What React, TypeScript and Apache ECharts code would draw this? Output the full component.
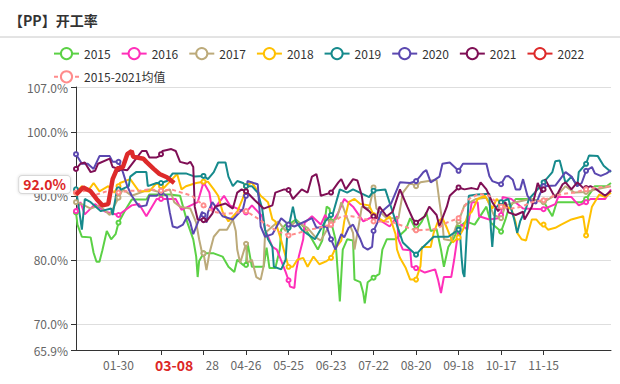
import React, { useEffect, useRef } from "react";
import * as echarts from "echarts";

const MONTH_LENGTHS = [31, 29, 31, 30, 31, 30, 31, 31, 30, 31, 30, 31];
const days: string[] = [];
MONTH_LENGTHS.forEach((len, m) => {
  for (let d = 1; d <= len; d++) {
    days.push(String(m + 1).padStart(2, "0") + "-" + String(d).padStart(2, "0"));
  }
});

const TITLE = "【PP】开工率";
const CURRENT_DAY_INDEX = 67; // 03-08
const CURRENT_VALUE = 92.0;

const s2015: [number, number][] = [[0,87.4],[1,85.5],[4,83.6],[10,83.5],[12,81.1],[14,79.7],[16,79.7],[18,81.5],[21,84.5],[24,83.2],[27,84],[29,85.8],[33,87.5],[35,88.3],[38,89.4],[48,89.4],[50,90.2],[58,90.2],[64,90.2],[71,90],[76,85.8],[80,83.2],[82,80.5],[83,77.3],[84,79.8],[87,81],[94,81],[100,80.5],[104,78.9],[108,78.1],[110,80],[114,79.2],[116,79.2],[117,82.7],[120,78.9],[128,78.9],[130,81.9],[132,78.7],[136,78.7],[139,81.6],[140,84.7],[143,85.5],[145,85.5],[150,86.3],[156,85],[161,83.2],[165,81.6],[168,83],[171,88.3],[173,88],[174,86],[177,83.2],[180,73.5],[182,81.6],[185,83.2],[189,83],[190,76.9],[194,76.5],[196,74.8],[197,73.2],[199,76.5],[203,77.2],[207,77.8],[209,81.6],[212,83.2],[218,83.2],[225,84.7],[228,86.5],[232,84.7],[236,86],[239,87.4],[242,84.5],[246,84.8],[249,81.6],[251,78.9],[254,82],[258,83.5],[261,85],[266,86],[272,85.5],[280,88.3],[283,85.8],[286,85.2],[290,84.4],[293,86.3],[295,87.9],[300,89.5],[310,89.5],[319,89.1],[325,86.8],[328,89],[340,89],[345,89],[348,89.5],[351,90.5],[354,91.5],[362,91.5],[365,92]];

const s2016: [number, number][] = [[0,87.6],[3,89],[6,87.1],[13,88.7],[20,87.5],[29,87],[38,88.5],[43,88.7],[48,86.8],[55,89.5],[58,89.5],[68,89.5],[72,87.8],[83,89],[87,92.1],[91,90.5],[93,87.6],[101,90],[105,88.5],[116,87.4],[120,88.5],[127,86.8],[129,84.7],[134,82],[137,81.6],[143,78.1],[145,76.8],[146,75.8],[149,75.6],[150,78],[152,80.5],[155,83.2],[156,85.8],[161,86.8],[167,85.5],[170,87],[174,85.5],[179,87.4],[183,89.5],[189,88.3],[196,86],[203,86.8],[214,85.2],[219,86.8],[220,83.2],[223,81.6],[228,81.5],[229,78.9],[232,78.7],[238,78],[245,78.5],[247,76.9],[249,74.8],[251,77.3],[256,77.3],[258,80],[261,84.7],[263,85.5],[267,84.7],[270,89],[274,89],[275,86.8],[282,86.3],[288,86.5],[290,87],[291,89.8],[297,89.5],[305,88],[319,87.9],[327,88.7],[329,89.8],[338,89.8],[343,88.5],[348,89],[351,89.5],[361,89.5],[365,91]];

const s2017: [number, number][] = [[0,89],[4,88.7],[10,88],[16,88.5],[23,87],[29,89.7],[32,91],[38,90],[50,91],[58,90.5],[64,91],[67,89],[71,88.3],[78,88],[82,85.8],[84,83.2],[86,81.1],[87,81],[89,78.4],[91,81],[94,83.6],[98,84.7],[103,84.7],[107,86.3],[109,84.5],[110,81.6],[112,79.5],[116,82.5],[117,79.5],[120,80],[123,77.3],[126,76.9],[128,79],[129,84.2],[134,85.2],[138,86],[143,84.5],[145,85],[150,86],[158,85],[163,83.6],[167,83],[174,85.8],[178,86.5],[181,89],[185,86.5],[189,84.2],[190,81.6],[193,85.5],[195,88.3],[200,88],[203,91.3],[205,88],[212,86.5],[220,86.5],[223,90.5],[228,92],[232,91.5],[235,92.1],[246,92.5],[248,89],[250,85.8],[251,83.2],[256,83],[259,85],[261,86],[265,88.5],[273,89.5],[280,89.7],[285,87],[290,86.5],[293,88.5],[300,89],[310,89.5],[319,89],[330,90.5],[334,91.5],[340,90.5],[348,90.6],[355,91],[365,91.5]];

const s2018: [number, number][] = [[0,90.5],[4,91.5],[8,90.7],[12,92],[16,90.7],[22,91.5],[26,90.5],[29,91.5],[30,92],[37,92.6],[43,90.7],[50,90.7],[55,92],[58,91.5],[59,91],[69,93.4],[72,91],[75,91.5],[82,92],[87,92.2],[90,92.2],[94,91],[97,90],[100,87.5],[104,86],[110,87.5],[114,89.7],[116,91.5],[120,92.1],[126,90],[131,89],[134,86.3],[136,86],[140,83],[145,78.9],[148,78.9],[151,80],[155,80.3],[158,78.9],[162,80.5],[166,79.3],[171,79.8],[174,80.3],[177,81.8],[181,83],[183,86],[186,89],[190,89.5],[194,88.7],[200,88.5],[203,87],[210,86],[214,86.8],[218,84],[219,81.6],[221,80.3],[225,78.7],[228,76.9],[232,76.9],[235,79],[236,82],[242,82],[244,84.2],[247,86],[250,86.5],[253,85],[257,82.7],[261,83.5],[264,84.7],[267,86.8],[270,87.5],[274,89.5],[279,90],[284,88],[287,89.5],[290,88.8],[291,88.5],[297,88],[300,85.8],[301,84.2],[304,83.2],[307,83],[309,84.7],[311,86.3],[314,86.3],[317,85.5],[319,85.5],[322,84.7],[327,85],[331,85.5],[338,86.3],[346,86.8],[348,83.8],[352,88.3],[357,90.2],[361,89.8],[365,90.5]];

const s2019: [number, number][] = [[0,91],[2,88],[4,84.7],[6,89.5],[10,89],[17,87.6],[24,88],[25,87],[28,91],[29,91],[31,91],[36,91.5],[37,93],[41,93.7],[48,93.7],[49,91.5],[55,92],[58,92],[62,92.3],[66,93.5],[75,93.5],[81,93],[87,93.1],[90,92.6],[94,93.7],[97,95.2],[102,95.2],[104,93],[107,91.5],[110,92.3],[114,92],[116,91.5],[120,91.5],[124,90.5],[127,88],[129,84.7],[131,83.2],[134,82],[135,78.9],[140,78.5],[143,80],[144,83.6],[145,85],[148,88.3],[150,86],[154,84.7],[158,84],[163,83.2],[165,84],[170,86],[174,87],[175,87],[180,91],[185,90.5],[189,91],[200,89.8],[203,90.8],[211,91],[216,87.5],[220,84.7],[223,82.7],[228,81.6],[232,80.8],[235,81.6],[240,82.7],[244,83.6],[254,83.6],[261,84.7],[262,84],[263,80.5],[264,78],[265,77.3],[267,85.8],[268,90],[274,90.2],[282,90.3],[283,85],[284,82],[286,88],[290,89],[295,89.5],[299,86.3],[301,84.2],[303,86],[307,88],[309,89.5],[313,90.5],[319,92.1],[325,93.7],[327,95.4],[330,95.5],[334,92],[338,93],[342,91.5],[343,93.7],[346,94.5],[348,95],[350,96.3],[356,96.2],[360,94.7],[365,93.7]];

const s2020: [number, number][] = [[0,96.5],[4,95],[8,95],[12,94.2],[16,96.2],[23,96.2],[25,95.3],[29,95.3],[32,93.7],[35,91.5],[38,90],[43,88.3],[48,88.5],[50,90],[55,90],[58,90.5],[62,90],[64,87.4],[66,85.2],[69,85],[73,85.5],[76,86.8],[78,85.8],[80,84],[86,87.5],[87,87],[89,85.8],[90,87.4],[93,89],[100,86.8],[107,86.3],[114,88],[116,90],[117,92.3],[124,91.8],[126,85.2],[129,83.6],[134,84],[140,86.5],[145,85.5],[149,85.2],[161,86.5],[164,85],[171,85.2],[174,83.2],[177,81.6],[181,84],[183,83.5],[186,85],[189,85.5],[194,83.2],[196,82],[199,81.6],[202,82],[203,84.5],[206,86],[208,87.4],[211,88],[215,88.8],[221,92.1],[228,92],[232,92.3],[235,93.1],[237,93.7],[239,94],[242,92.1],[248,93],[250,95],[255,95.2],[261,93.9],[264,95],[270,95],[280,95],[282,93.1],[284,92.3],[290,91.8],[293,93],[295,93.1],[298,92.5],[300,91],[303,91],[305,92.6],[308,90],[311,89],[314,88.8],[316,90],[319,91.5],[327,91.6],[332,93.1],[334,93.7],[338,93],[342,91.5],[345,92],[348,93.9],[352,94.5],[354,93.5],[358,93.1],[362,93.5],[365,94]];

const s2021: [number, number][] = [[0,94.2],[3,95],[6,95.2],[10,93.7],[13,93.9],[15,95],[23,95.8],[25,94.5],[29,94.2],[35,94],[41,95.8],[45,97],[48,97],[50,96],[55,96],[57,96.2],[58,96.5],[59,97],[65,97.3],[68,97],[71,95.3],[76,95],[78,95.3],[80,94.5],[81,88.3],[83,86.3],[87,86.2],[89,86],[93,87.2],[95,88.3],[102,88.8],[107,88],[110,90.5],[113,91],[116,90.7],[122,89.3],[128,88],[134,88.5],[136,90.5],[142,91],[145,90.9],[148,89.5],[154,91],[158,90.5],[161,93],[164,93.4],[166,91.5],[167,90],[174,90.5],[179,92.1],[181,92.6],[184,91],[189,92.6],[192,92.4],[195,90],[196,88.3],[200,87.6],[203,86.8],[205,86.5],[207,88.3],[212,86.8],[216,87.5],[221,91],[226,88.3],[230,86.3],[232,85.8],[238,86.8],[241,88.3],[246,87],[248,85.2],[250,86.5],[253,88.3],[255,90],[261,91.3],[265,91],[270,91.2],[274,91],[276,92.1],[280,91],[282,90],[284,89],[288,87.6],[290,88.3],[293,89],[295,87.4],[300,87],[305,87.5],[306,86.3],[311,88.3],[313,90],[315,92],[318,90.5],[319,91],[320,92.6],[325,90.5],[327,89.7],[329,90.5],[332,91.8],[334,92.1],[338,91],[342,92.1],[347,91],[348,91.2],[351,91.5],[355,91],[361,90],[365,90.8]];

const s2022: [number, number][] = [[0,90.2],[5,91.3],[10,90.7],[14,89.5],[18,88.5],[22,88.7],[25,92.6],[28,94.2],[32,94.5],[35,96.5],[38,97],[39,96.1],[46,95.8],[48,95.3],[53,94.2],[57,93.4],[62,92.9],[67,92.0]];

const sAvg: [number, number][] = [[0,90.5],[7,90.8],[14,90.2],[21,90.7],[29,90.5],[36,90.8],[43,90.8],[50,91],[58,90.8],[65,91],[72,90.5],[79,90],[87,88.5],[94,87.5],[101,87.2],[108,87.3],[116,87.6],[123,86.6],[130,85.5],[137,84.5],[145,83.8],[152,84.2],[159,84.7],[166,85],[174,85.5],[181,86.8],[188,86.8],[195,86.5],[203,86],[210,86],[217,85.8],[224,85.2],[232,84.6],[239,84.7],[246,84.8],[253,85.8],[261,86.5],[268,89.5],[275,90.3],[282,90],[290,88.3],[297,88],[304,88.3],[311,89],[319,89.3],[326,90],[333,90.3],[340,90.5],[348,91],[355,91.3],[365,91.5]];

const FONT = "'Noto Sans CJK SC', 'Noto Sans', sans-serif";
const RED = "#dc2626";

export default function App() {
  const ref = useRef<HTMLDivElement>(null);
  useEffect(() => {
    document.body.style.margin = "0";
    if (!ref.current) return;
    const chart = echarts.init(ref.current, undefined, { renderer: "svg" });
    const line = (name: string, data: [number, number][], color: string, extra: any = {}) => ({
      name,
      type: "line",
      data,
      symbol: "emptyCircle",
      symbolSize: 4,
      showSymbol: true,
      lineStyle: { width: 2, color },
      itemStyle: { color, borderWidth: 1 },
      emphasis: { disabled: true },
      ...extra,
    });
    const labelInterval = (i: number) => i % 29 === 0 && i <= 348;
    const tickInterval = (i: number) => i % 29 === 0 && i > 0 && i <= 319;
    chart.setOption({
      animation: false,
      textStyle: { fontFamily: FONT },
      title: {
        text: TITLE,
        left: 4,
        top: 8,
        textStyle: { fontSize: 14, fontWeight: "bold", color: "#333", fontFamily: FONT },
      },
      graphic: [
        {
          type: "line",
          shape: { x1: 0, y1: 37, x2: 620, y2: 37 },
          style: { stroke: "#c8c8c8", lineWidth: 1 },
        },
      ],
      legend: {
        left: 48,
        right: 20,
        top: 42,
        itemGap: 10,
        itemWidth: 25,
        itemHeight: 14,
        textStyle: { color: "#333", fontSize: 12, fontFamily: FONT },
        data: ["2015", "2016", "2017", "2018", "2019", "2020", "2021", "2022", "2015-2021均值"],
      },
      grid: { left: 76, right: 9, top: 87, bottom: 34 },
      xAxis: {
        type: "category",
        data: days,
        boundaryGap: false,
        axisLine: { lineStyle: { color: "#333", width: 1 } },
        axisTick: { interval: tickInterval, length: 5, lineStyle: { color: "#333" } },
        axisLabel: {
          interval: labelInterval,
          formatter: (v: string, i: number) => (i === 0 || i === 58 || i === 348 ? "" : v),
          color: "#666",
          fontSize: 12,
          margin: 8,
          fontFamily: FONT,
        },
        splitLine: { show: false },
        axisPointer: {
          show: true,
          type: "line",
          status: "show",
          value: CURRENT_DAY_INDEX,
          triggerTooltip: false,
          lineStyle: { color: "rgba(0,0,0,0)", width: 0 },
          label: {
            show: true,
            color: RED,
            fontWeight: "bold",
            fontSize: 14,
            fontFamily: FONT,
            backgroundColor: "#fff",
            padding: [2, 13],
            margin: 6,
          },
        },
      },
      yAxis: {
        type: "value",
        min: 65.9,
        max: 107,
        splitNumber: 5,
        axisLine: { show: true, lineStyle: { color: "#333" } },
        axisTick: { show: true, length: 5, lineStyle: { color: "#333" } },
        axisLabel: {
          formatter: (v: number) => v.toFixed(1) + "%",
          color: "#666",
          fontSize: 12,
          margin: 8,
          fontFamily: FONT,
        },
        splitLine: { show: true, lineStyle: { color: "#dedede", width: 1 } },
        axisPointer: {
          show: true,
          type: "line",
          status: "show",
          value: CURRENT_VALUE,
          triggerTooltip: false,
          lineStyle: { color: "rgba(0,0,0,0)", width: 0 },
          label: {
            show: true,
            formatter: (p: any) => Number(p.value).toFixed(1) + "%",
            color: RED,
            fontWeight: "bold",
            fontSize: 14,
            fontFamily: FONT,
            backgroundColor: "#fff",
            borderColor: "#d8d8d8",
            borderWidth: 1,
            padding: [0, 4],
            lineHeight: 17,
            shadowBlur: 3,
            shadowColor: "rgba(0,0,0,0.15)",
            margin: 6,
          },
        },
      },
      series: [
        line("2015", s2015, "#5bd145"),
        line("2016", s2016, "#ff2fb9"),
        line("2017", s2017, "#bcaa7a"),
        line("2018", s2018, "#ffc000"),
        line("2019", s2019, "#168a8c"),
        line("2020", s2020, "#5b48b0"),
        line("2021", s2021, "#7f0f55"),
        line("2015-2021均值", sAvg, "#ff8c8c", {
          lineStyle: { width: 2, color: "#ff8c8c", type: [4, 3] },
        }),
        line("2022", s2022, "#dd2a2a", {
          showSymbol: false,
          lineStyle: { width: 4.5, color: "#dd2a2a" },
          z: 5,
        }),
      ],
    });
    return () => chart.dispose();
  }, []);
  return <div ref={ref} style={{ width: 620, height: 384 }} />;
}
